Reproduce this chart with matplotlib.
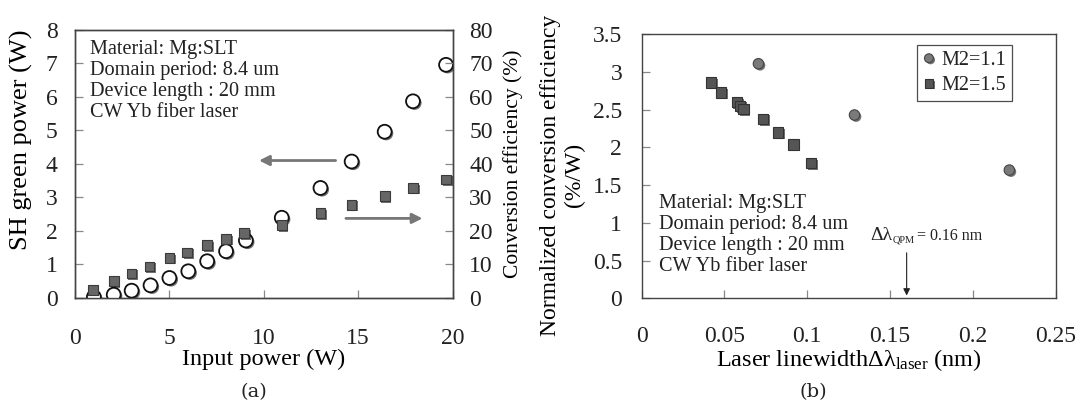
import matplotlib
matplotlib.use('Agg')
import matplotlib.pyplot as plt
import matplotlib.patheffects as pe

plt.rcParams['font.family'] = ['Liberation Serif', 'DejaVu Serif']
plt.rcParams['mathtext.fontset'] = 'custom'
plt.rcParams['mathtext.rm'] = 'Liberation Serif'
plt.rcParams['mathtext.it'] = 'Liberation Serif:italic'
plt.rcParams['text.color'] = '#222222'

# (a) SH green power / conversion efficiency vs input power
input_power = [1.0, 2.05, 3.0, 4.0, 5.0, 6.0, 7.0, 8.0, 9.05, 10.95, 13.0, 14.65, 16.4, 17.9, 19.65]
sh_power = [0.02, 0.09, 0.21, 0.37, 0.59, 0.79, 1.09, 1.39, 1.71, 2.39, 3.28, 4.07, 4.96, 5.87, 6.96]
eff_input = [0.95, 2.05, 3.0, 3.95, 5.0, 5.95, 7.0, 8.0, 8.95, 10.95, 13.0, 14.65, 16.4, 17.9, 19.65]
conv_eff = [2.4, 4.9, 7.2, 9.3, 11.9, 13.5, 15.7, 17.6, 19.3, 21.7, 25.3, 27.8, 30.3, 32.8, 35.3]

# (b) normalized conversion efficiency vs laser linewidth
lw_m11 = [0.0705, 0.1285, 0.222]
eff_m11 = [3.11, 2.43, 1.70]
lw_m15 = [0.042, 0.0478, 0.0575, 0.0595, 0.0615, 0.0733, 0.0823, 0.0916, 0.1024]
eff_m15 = [2.86, 2.73, 2.60, 2.55, 2.51, 2.38, 2.20, 2.04, 1.79]

info = "Material: Mg:SLT\nDomain period: 8.4 um\nDevice length : 20 mm\nCW Yb fiber laser"

shadow = [pe.withSimplePatchShadow(offset=(1.2, -1.2), shadow_rgbFace='k', alpha=0.55)]
spine_c = '#444444'


def style_axes(ax):
    for s in ax.spines.values():
        s.set_color(spine_c)
        s.set_linewidth(1.0)
    ax.tick_params(direction='in', length=6, width=0.9, color='#888888',
                   labelsize=17, labelcolor='#222222')


fig = plt.figure(figsize=(10.79, 4.04), dpi=100)

# ---- panel (a)
ax1 = fig.add_axes([0.0695, 0.2631, 0.350, 0.6626])
ax2 = ax1.twinx()
ax1.plot(input_power, sh_power, 'o', ms=10, mfc='white', mec='#111111', mew=1.3,
         path_effects=shadow, zorder=3)
ax2.plot(eff_input, conv_eff, 's', ms=7, mfc='#666666', mec='#3a3a3a', mew=0.8,
         path_effects=shadow, zorder=3)
ax1.set_xlim(0, 20)
ax1.set_ylim(0, 8)
ax2.set_ylim(0, 80)
ax1.set_xticks([0, 5, 10, 15, 20])
ax1.set_yticks(range(0, 9))
ax2.set_yticks(range(0, 81, 10))
for a in (ax1, ax2):
    style_axes(a)
ax1.tick_params(axis='x', pad=22)
ax1.tick_params(axis='y', pad=12.5)
ax2.tick_params(axis='y', pad=12)
ax1.set_xlabel('Input power (W)', fontsize=17.5, labelpad=0)
ax1.set_ylabel('SH green power (W)', fontsize=19)
ax1.yaxis.set_label_coords(-0.111, 0.589)
ax2.set_ylabel('Conversion efficiency (%)', fontsize=15.5, labelpad=7)
ax1.text(0.040, 0.963, info, transform=ax1.transAxes, fontsize=14.6,
         va='top', ha='left', linespacing=1.15)
ax1.annotate('', xy=(9.6, 4.1), xytext=(13.95, 4.1),
             arrowprops=dict(arrowstyle='-|>', color='#777777', lw=2.0, mutation_scale=15))
ax1.annotate('', xy=(18.55, 2.37), xytext=(14.2, 2.37),
             arrowprops=dict(arrowstyle='-|>', color='#777777', lw=2.0, mutation_scale=15))
fig.text(0.2354, 0.03, '(a)', fontsize=14, ha='center', va='center', family='DejaVu Serif')

# ---- panel (b)
ax3 = fig.add_axes([0.5947, 0.2616, 0.3837, 0.6535])
ax3.plot(lw_m11, eff_m11, 'o', ms=7.5, mfc='#7a7a7a', mec='#444444', mew=0.8,
         path_effects=shadow, zorder=3, label='M2=1.1')
ax3.plot(lw_m15, eff_m15, 's', ms=7.5, mfc='#555555', mec='#333333', mew=0.8,
         path_effects=shadow, zorder=3, label='M2=1.5')
ax3.set_xlim(0, 0.25)
ax3.set_ylim(0, 3.5)
ax3.set_xticks([0, 0.05, 0.1, 0.15, 0.2, 0.25])
ax3.set_xticklabels(['0', '0.05', '0.1', '0.15', '0.2', '0.25'])
ax3.set_yticks([0, 0.5, 1, 1.5, 2, 2.5, 3, 3.5])
ax3.set_yticklabels(['0', '0.5', '1', '1.5', '2', '2.5', '3', '3.5'])
style_axes(ax3)
ax3.tick_params(axis='x', pad=20)
ax3.tick_params(axis='y', pad=14)
ax3.set_xlabel('Laser linewidth\u0394\u03bb$_{\\mathrm{laser}}$ (nm)', fontsize=17.5, labelpad=0)
ax3.set_ylabel('Normalized conversion efficiency\n(%/W)', fontsize=17, linespacing=1.2)
ax3.yaxis.set_label_coords(-0.137, 0.467)
ax3.text(0.0415, 0.395, info, transform=ax3.transAxes, fontsize=14.6,
         va='top', ha='left', linespacing=1.15)
leg = ax3.legend(loc='upper right', bbox_to_anchor=(0.894, 0.959), fontsize=14.5,
                 frameon=True, fancybox=False, handletextpad=0.3, handlelength=0.6,
                 borderpad=0.3, labelspacing=0.3, markerscale=0.85, borderaxespad=0)
leg.get_frame().set_edgecolor('#222222')
leg.get_frame().set_linewidth(0.9)
# delta-lambda QPM annotation: big symbol, tiny subscript, smaller value
ax3.text(0.1383, 0.773, '\u0394\u03bb', fontsize=14, ha='left', va='baseline')
ax3.text(0.1515, 0.735, 'QPM', fontsize=7.5, ha='left', va='baseline')
ax3.text(0.1665, 0.773, '= 0.16 nm', fontsize=11.5, ha='left', va='baseline')
ax3.annotate('', xy=(0.16, 0.0), xytext=(0.16, 0.64),
             arrowprops=dict(arrowstyle='-|>', color='#222222', lw=0.8, mutation_scale=10))
fig.text(0.754, 0.03, '(b)', fontsize=14, ha='center', va='center', family='DejaVu Serif')

fig.savefig('out.png', dpi=100)
